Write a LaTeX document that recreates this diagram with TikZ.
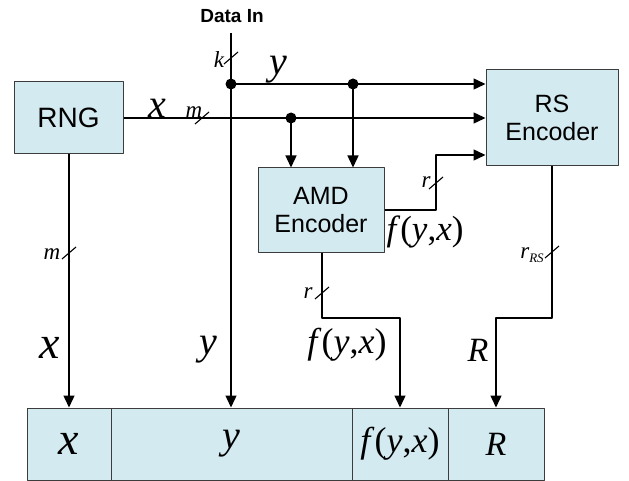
\documentclass[tikz,border=0pt]{standalone}
\usepackage{fontspec}
\setmainfont{Liberation Sans}
\newfontfamily\tms{Liberation Serif}
\usetikzlibrary{arrows.meta,positioning}
\definecolor{boxblue}{RGB}{210,234,240}
\definecolor{boxline}{RGB}{60,60,60}
\newcommand{\fyx}{{\tms\itshape f\/\upshape(\itshape y\upshape,\itshape x\upshape)}}
\tikzset{
  block/.style={draw=boxline, fill=boxblue, line width=1pt, align=center, inner sep=0pt,
    font=\fontsize{25}{28}\selectfont},
  cell/.style={draw=boxline, fill=boxblue, line width=1pt, minimum height=72pt, inner sep=0pt},
  wire/.style={line width=1.4pt},
  feed/.style={wire, -{Triangle[length=12pt,width=11pt]}},
  small/.style={inner sep=0pt, font=\tms\itshape\fontsize{23}{25}\selectfont},
  huge/.style={inner sep=0pt, font=\tms\itshape\fontsize{46}{48}\selectfont},
  mid/.style={inner sep=0pt, font=\tms\itshape\fontsize{40}{42}\selectfont}
}
\begin{document}
\begin{tikzpicture}[x=1pt, y=-1pt, line join=round]
  \useasboundingbox (0,0) rectangle (629,481);
  % Blocks
  \node[block, minimum width=109pt, minimum height=72pt, font=\fontsize{28}{30}\selectfont] (rng) at (68.5,118) {RNG};
  \node[block, minimum width=126pt, minimum height=84pt] (amd) at (321,210) {AMD\\Encoder};
  \node[block, minimum width=132pt, minimum height=96pt] (rs) at (552,118) {RS\\Encoder};
  % Output word
  \node[cell, minimum width=84pt] (cx) at (69,444) {};
  \node[cell, minimum width=241pt] (cy) at (231.5,444) {};
  \node[cell, minimum width=96pt] (cf) at (400,444) {};
  \node[cell, minimum width=96pt] (cr) at (496,444) {};
  % Input and junctions
  \node[font=\bfseries\fontsize{19}{20}\selectfont] (datain) at (232,16) {Data In};
  \coordinate (din) at (231,33);
  \coordinate (jy) at (231,84);
  \coordinate (jy2) at (353,84);
  \coordinate (jx) at (291,118);
  \coordinate (ampout) at (436,210);
  % Wires
  \draw[feed] (din) -- (din |- cy.north);
  \draw[feed] (jy) -- (jy -| rs.west);
  \draw[feed] (jy2) -- (jy2 |- amd.north);
  \draw[feed] (rng.east) -- (rng.east -| rs.west);
  \draw[feed] (jx) -- (jx |- amd.north);
  \draw[feed] (amd.east |- ampout) -- (ampout) -- (436,155) -- (rs.west |- 0,155);
  \draw[feed] (amd.south -| 322,0) -- (322,318) -- (400,318) -- (cf.north);
  \draw[feed] (rs.south) -- (552,318) -- (496,318) -- (cr.north);
  \draw[feed] (cx.north |- rng.south) -- (cx.north);
  \foreach \j in {jy, jy2, jx}
    \fill (\j) circle (5.5pt);
  % Bus widths
  \foreach \p in {(231,58), (202,118), (69,253), (436,183), (322,293), (552,252)}
    \draw[line width=1.1pt] \p ++(-7,6) -- ++(14,-12);
  \node[small] (lk) at (219,60) {k};
  \node[small] (lm1) at (194,112) {m};
  \node[small] (lm2) at (52,254) {m};
  \node[small] (lr1) at (426,182) {r};
  \node[small] (lr2) at (308,293) {r};
  \node[small] (lrs) at (532,255) {r\raisebox{-0.35ex}{\fontsize{13}{14}\selectfont RS}};
  % Signal names
  \node[mid] (ty) at (278,70) {y};
  \node[mid] (tx) at (157,108) {x};
  \node[inner sep=0pt, font=\fontsize{35}{37}\selectfont] (tf) at (425,232) {\fyx};
  \node[huge] (bx) at (50,348) {x};
  \node[mid] (by) at (208,350) {y};
  \node[inner sep=0pt, font=\fontsize{36}{38}\selectfont] (bf) at (347,345) {\fyx};
  \node[inner sep=0pt, font=\tms\itshape\fontsize{34}{36}\selectfont] (bR) at (478,350) {R};
  % Word contents
  \node[huge] at (cx) {x};
  \node[mid] at (cy) {y};
  \node[inner sep=0pt, font=\fontsize{36}{38}\selectfont] at (cf) {\fyx};
  \node[inner sep=0pt, font=\tms\itshape\fontsize{34}{36}\selectfont] at (cr) {R};
\end{tikzpicture}
\end{document}
